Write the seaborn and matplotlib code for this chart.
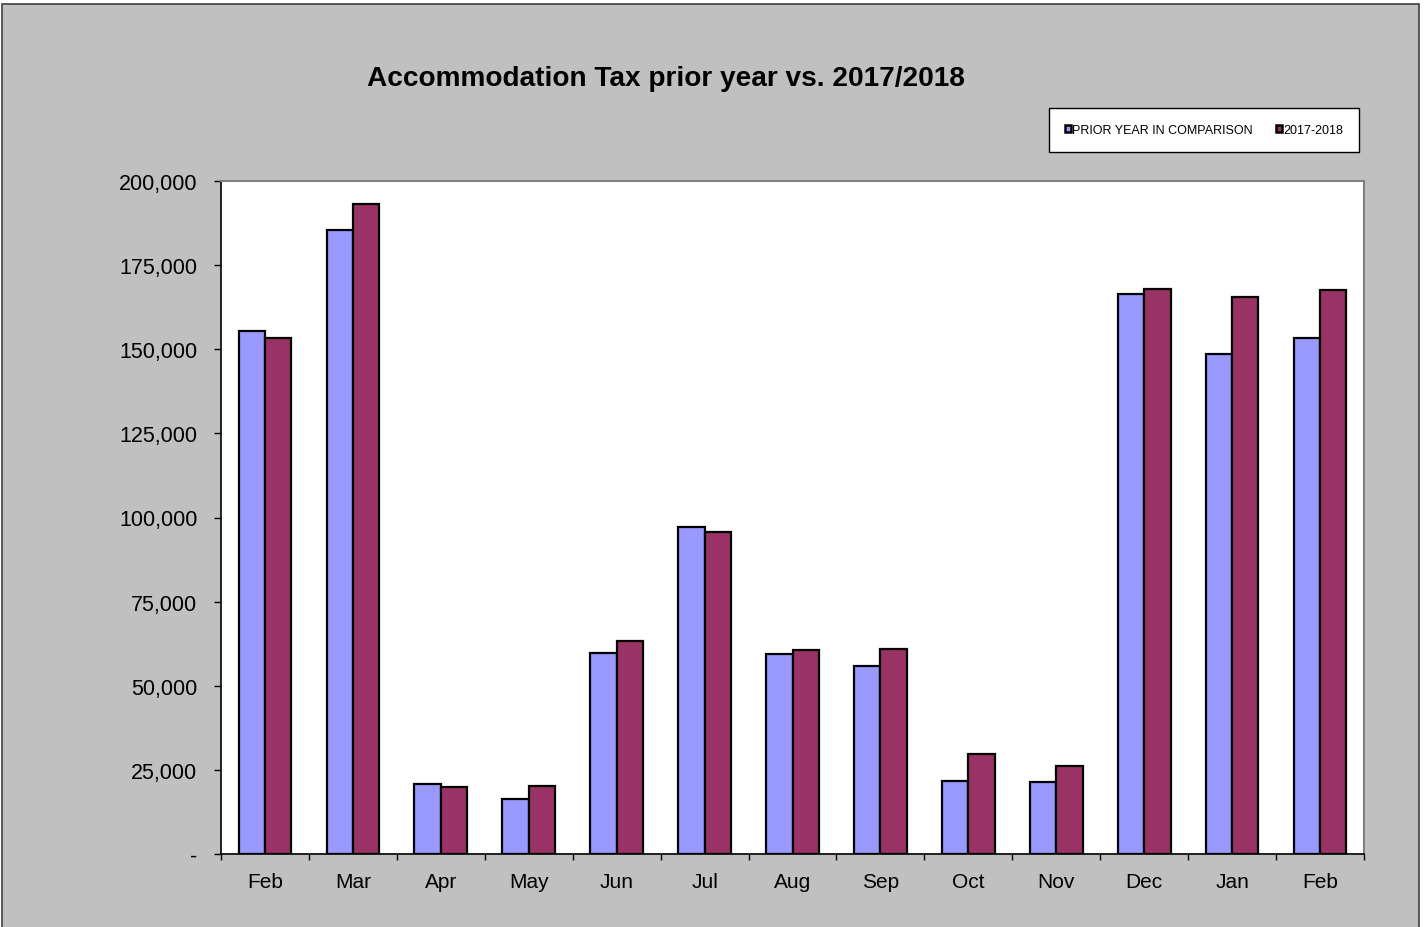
import numpy as np
import pandas as pd
import seaborn as sns
import matplotlib.pyplot as plt
import matplotlib.ticker as mticker
from matplotlib.patches import Rectangle

# chart values
months = ["Feb", "Mar", "Apr", "May", "Jun", "Jul", "Aug", "Sep", "Oct", "Nov", "Dec", "Jan", "Feb"]
prior_year = [155400, 185300, 20700, 16200, 59600, 97300, 59300, 55800, 21600, 21300, 166500, 148700, 153400]
current_year = [153200, 193200, 19800, 20100, 63400, 95800, 60500, 60800, 29600, 26300, 168000, 165600, 167700]
series_names = ["PRIOR YEAR IN COMPARISON", "2017-2018"]
colors = ["#9999FF", "#993366"]

# months repeat (Feb twice), so use a position key per bar group
keys = [f"{i:02d}" for i in range(len(months))]
df = pd.DataFrame({
    "key": keys * 2,
    "value": prior_year + current_year,
    "series": [series_names[0]] * len(keys) + [series_names[1]] * len(keys),
})

sns.set_style("white")
plt.rcParams["font.family"] = ["Liberation Sans", "DejaVu Sans"]
plt.rcParams["text.color"] = "black"
plt.rcParams["xtick.color"] = "black"
plt.rcParams["ytick.color"] = "black"

fig = plt.figure(figsize=(14.24, 9.28), dpi=100)
fig.patch.set_facecolor("white")
# grey chart area with a thin dark border
fig.patches.append(Rectangle((2 / 1424, -0.01), 1417 / 1424, 1 - 5 / 928 + 0.01,
                             transform=fig.transFigure, facecolor="#C0C0C0",
                             edgecolor="#404040", linewidth=1.2, zorder=-10))

ax = fig.add_axes([221 / 1424, 73 / 928, 1143 / 1424, 673 / 928])
sns.barplot(data=df, x="key", y="value", hue="series", order=keys,
            hue_order=series_names, palette=colors, width=0.6,
            edgecolor="black", linewidth=1.6, saturation=1, ax=ax, legend=False)

ax.set_facecolor("white")
ax.set_ylim(0, 200000)
ax.set_xlim(-0.5, len(keys) - 0.5)
ax.yaxis.set_major_locator(mticker.MultipleLocator(25000))
ax.yaxis.set_major_formatter(mticker.FuncFormatter(lambda v, p: "-" if v == 0 else f"{v:,.0f}"))

# month labels under groups, ticks between groups
ax.set_xticks(np.arange(len(months)))
ax.set_xticklabels(months)
ax.set_xticks(np.arange(len(months) + 1) - 0.5, minor=True)
ax.tick_params(axis="x", which="major", bottom=True, length=0, pad=13, labelsize=15, labelcolor="black")
ax.tick_params(axis="x", which="minor", bottom=True, length=4.3, width=1, color="black", direction="out")
ax.tick_params(axis="y", left=True, length=5, width=1, color="black", direction="out", pad=12,
               labelsize=15.5, labelcolor="black")
ax.set_xlabel("")
ax.set_ylabel("")

for side in ["left", "bottom"]:
    ax.spines[side].set_color("black")
    ax.spines[side].set_linewidth(1.2)
for side in ["top", "right"]:
    ax.spines[side].set_color("#808080")
    ax.spines[side].set_linewidth(1.5)

fig.text(666 / 1424, 1 - 79 / 928, "Accommodation Tax prior year vs. 2017/2018",
         ha="center", va="center", fontsize=20.2, fontweight="bold", color="black")

handles = [Rectangle((0, 0), 1, 1, facecolor=c, edgecolor="black", linewidth=1.8) for c in colors]
leg = fig.legend(handles, series_names, loc="center", ncol=2,
                 bbox_to_anchor=(1204 / 1424, 1 - 131 / 928), fontsize=9,
                 frameon=True, fancybox=False, edgecolor="black", framealpha=1,
                 handlelength=0.5, handleheight=0.5, handletextpad=0.1,
                 columnspacing=1.8, borderpad=1.25, borderaxespad=0)
leg.get_frame().set_linewidth(1.0)
for t in leg.get_texts():
    t.set_color("black")

fig.savefig("out.png", dpi=100)
